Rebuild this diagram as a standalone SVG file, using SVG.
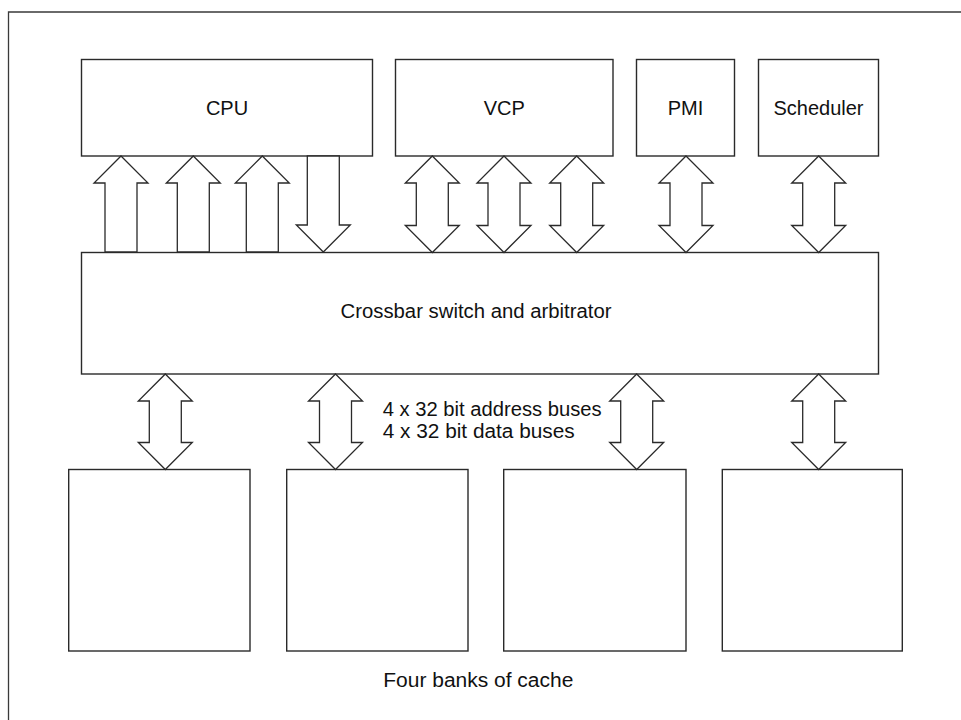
<svg xmlns="http://www.w3.org/2000/svg" width="961" height="720" viewBox="0 0 961 720">
  <defs>
    <style>
      .box { fill: #fff; stroke: #2a2a2a; stroke-width: 1.4; }
      .bus { fill: #fff; stroke: #2a2a2a; stroke-width: 1.3; stroke-linejoin: miter; }
      .frame { fill: none; stroke: #3a3a3a; stroke-width: 1.3; }
      .lbl { font-family: "Liberation Sans", Arial, Helvetica, sans-serif; font-size: 20px; fill: #111; }
      .mid { text-anchor: middle; }
    </style>
    <!-- bus arrow shapes centred on x=0; shaft half-width 16, head half-width 27 -->
    <path id="up" d="M0,0 L27,27 L16,27 L16,96 L-16,96 L-16,27 L-27,27 Z"/>
    <path id="down" d="M0,96 L27,69 L16,69 L16,0 L-16,0 L-16,69 L-27,69 Z"/>
    <path id="both" d="M0,0 L27,27 L16,27 L16,69.5 L27,69.5 L0,96.5 L-27,69.5 L-16,69.5 L-16,27 L-27,27 Z"/>
    <path id="bankbus" d="M0,0 L27,27 L16,27 L16,68.5 L27,68.5 L0,95.5 L-27,68.5 L-16,68.5 L-16,27 L-27,27 Z"/>
  </defs>

  <rect width="961" height="720" fill="#fff"/>

  <!-- page frame -->
  <path class="frame" d="M8.5,720 L8.5,12 L961,12"/>

  <!-- processors -->
  <g id="cpu">
    <rect class="box" x="81.5" y="59.5" width="291" height="96.5"/>
    <text class="lbl mid" x="227" y="115">CPU</text>
  </g>
  <g id="vcp">
    <rect class="box" x="395.5" y="59.5" width="217.5" height="96.5"/>
    <text class="lbl mid" x="504.3" y="115">VCP</text>
  </g>
  <g id="pmi">
    <rect class="box" x="636.5" y="59.5" width="98" height="96.5"/>
    <text class="lbl mid" x="685.5" y="115">PMI</text>
  </g>
  <g id="scheduler">
    <rect class="box" x="758.5" y="59.5" width="120" height="96.5"/>
    <text class="lbl mid" x="818.5" y="115">Scheduler</text>
  </g>

  <!-- crossbar -->
  <g id="crossbar">
    <rect class="box" x="81.5" y="252.5" width="797" height="121.5"/>
    <text class="lbl mid" x="476" y="318" font-size="21" textLength="271" lengthAdjust="spacingAndGlyphs">Crossbar switch and arbitrator</text>
  </g>

  <!-- cache banks -->
  <g id="bank1"><rect class="box" x="68.7" y="469.5" width="181.3" height="181.5"/></g>
  <g id="bank2"><rect class="box" x="286.7" y="469.5" width="181.3" height="181.5"/></g>
  <g id="bank3"><rect class="box" x="503.7" y="469.5" width="182.3" height="181.5"/></g>
  <g id="bank4"><rect class="box" x="722.3" y="469.5" width="180" height="181.5"/></g>

  <!-- bus connectors -->
  <g id="connectors">
    <use class="bus" href="#up" x="121" y="156"/>
    <use class="bus" href="#up" x="193.3" y="156"/>
    <use class="bus" href="#up" x="262.3" y="156"/>
    <use class="bus" href="#down" x="323.3" y="156"/>

    <use class="bus" href="#both" x="432.3" y="156"/>
    <use class="bus" href="#both" x="504" y="156"/>
    <use class="bus" href="#both" x="576.7" y="156"/>
    <use class="bus" href="#both" x="686" y="156"/>
    <use class="bus" href="#both" x="818.7" y="156"/>

    <use class="bus" href="#bankbus" x="165.3" y="374"/>
    <use class="bus" href="#bankbus" x="335.5" y="374"/>
    <use class="bus" href="#bankbus" x="636.7" y="374"/>
    <use class="bus" href="#bankbus" x="818.7" y="374"/>
  </g>

  <!-- bus annotation -->
  <text class="lbl" x="382.7" y="416" font-size="21" textLength="219" lengthAdjust="spacingAndGlyphs">4 x 32 bit address buses</text>
  <text class="lbl" x="382.7" y="438" font-size="21" textLength="192" lengthAdjust="spacingAndGlyphs">4 x 32 bit data buses</text>

  <text class="lbl" x="383.3" y="687.3" font-size="21" textLength="190" lengthAdjust="spacingAndGlyphs">Four banks of cache</text>
</svg>
